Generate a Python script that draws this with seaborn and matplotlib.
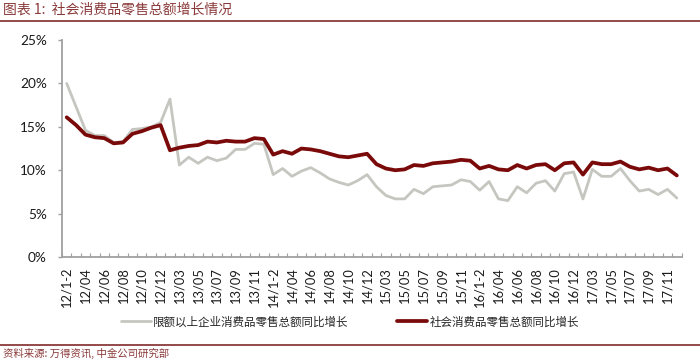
import numpy as np
import pandas as pd
import seaborn as sns
import matplotlib.pyplot as plt
from matplotlib.lines import Line2D
from matplotlib.ticker import FuncFormatter, FixedLocator

# category labels: year/month, Jan-Feb combined
years = ['12', '13', '14', '15', '16', '17']
months = ['1-2', '03', '04', '05', '06', '07', '08', '09', '10', '11', '12']
categories = [f'{y}/{m}' for y in years for m in months]

# 限额以上企业消费品零售总额同比增长 (%)
above_limit = [20.0, 17.3, 14.6, 14.0, 14.0, 13.2, 13.3, 14.7, 14.8, 15.0, 15.5,
               18.2, 10.6, 11.5, 10.8, 11.5, 11.1, 11.4, 12.4, 12.4, 13.1, 13.0,
               9.5, 10.2, 9.3, 9.9, 10.3, 9.7, 9.0, 8.6, 8.3, 8.8, 9.5,
               8.1, 7.1, 6.7, 6.7, 7.8, 7.3, 8.1, 8.2, 8.3, 8.9, 8.7,
               7.7, 8.7, 6.7, 6.5, 8.1, 7.4, 8.5, 8.8, 7.6, 9.6, 9.8,
               6.7, 10.1, 9.3, 9.3, 10.2, 8.8, 7.6, 7.8, 7.2, 7.8, 6.8]

# 社会消费品零售总额同比增长 (%)
total_retail = [16.1, 15.2, 14.1, 13.8, 13.7, 13.1, 13.2, 14.2, 14.5, 14.9, 15.2,
                12.3, 12.6, 12.8, 12.9, 13.3, 13.2, 13.4, 13.3, 13.3, 13.7, 13.6,
                11.8, 12.2, 11.9, 12.5, 12.4, 12.2, 11.9, 11.6, 11.5, 11.7, 11.9,
                10.7, 10.2, 10.0, 10.1, 10.6, 10.5, 10.8, 10.9, 11.0, 11.2, 11.1,
                10.2, 10.5, 10.1, 10.0, 10.6, 10.2, 10.6, 10.7, 10.0, 10.8, 10.9,
                9.5, 10.9, 10.7, 10.7, 11.0, 10.4, 10.1, 10.3, 10.0, 10.2, 9.4]

name_gray = '限额以上企业消费品零售总额同比增长'
name_red = '社会消费品零售总额同比增长'

df = pd.DataFrame({'pos': np.arange(len(categories)),
                   'cat': categories,
                   name_gray: above_limit,
                   name_red: total_retail})

sns.set_style('white')
plt.rcParams['font.family'] = ['Lato', 'Noto Sans CJK SC', 'DejaVu Sans']
cjk = ['Noto Sans CJK SC', 'DejaVu Sans']
dark_red = '#7a0a0a'
brown = '#8b3a3a'

fig = plt.figure(figsize=(7, 3.61), dpi=100)
ax = fig.add_axes([0.0886, 0.288, 0.885, 0.601])

sns.lineplot(data=df, x='pos', y=name_gray, ax=ax, color='#c6c6c1', lw=2.0, label=name_gray)
sns.lineplot(data=df, x='pos', y=name_red, ax=ax, color=dark_red, lw=2.7, label=name_red)

ax.set_xlim(-0.5, len(categories) - 0.5)
ax.set_ylim(0, 25)
ax.set_yticks([0, 5, 10, 15, 20, 25])
ax.yaxis.set_major_formatter(FuncFormatter(lambda v, p: f'{v:.0f}%'))

ax.set_xticks(df['pos'][::2])
ax.set_xticklabels(df['cat'][::2], rotation=90)
ax.xaxis.set_minor_locator(FixedLocator(np.arange(-0.5, len(categories), 1)))
ax.tick_params(axis='x', which='major', length=0, pad=7, labelsize=9.3, colors='#1a1a1a')
ax.tick_params(axis='x', which='minor', direction='in', length=3, width=0.8,
               color='#a0a0a0', bottom=True)
ax.tick_params(axis='y', length=3, width=1, color='#a0a0a0', left=True,
               labelsize=9.8, pad=8, labelcolor='#1a1a1a')

for s in ['top', 'right']:
    ax.spines[s].set_visible(False)
for s in ['left', 'bottom']:
    ax.spines[s].set_color('#a0a0a0')
    ax.spines[s].set_linewidth(1.3)
ax.set_xlabel('')
ax.set_ylabel('')

ax.get_legend().remove()
handles, labels = ax.get_legend_handles_labels()
fig.legend(handles, labels, loc='center', bbox_to_anchor=(0.5, 0.108), ncol=2,
           frameon=False, handlelength=2.6, columnspacing=4.2, handletextpad=0.2,
           prop={'family': cjk, 'size': 8.3})

# header and footer
fig.text(0.004, 0.972, '图表 1:  社会消费品零售总额增长情况', family=cjk, fontsize=10,
         style='italic', color=brown, va='center', ha='left')
fig.add_artist(Line2D([0, 1], [0.942, 0.942], color=brown, lw=1.3))
fig.add_artist(Line2D([0, 1], [0.044, 0.044], color=brown, lw=1.3))
fig.text(0.004, 0.02, '资料来源: 万得资讯, 中金公司研究部', family=cjk, fontsize=7.5,
         style='italic', color=brown, va='center', ha='left')

fig.savefig('out.png', dpi=100)
